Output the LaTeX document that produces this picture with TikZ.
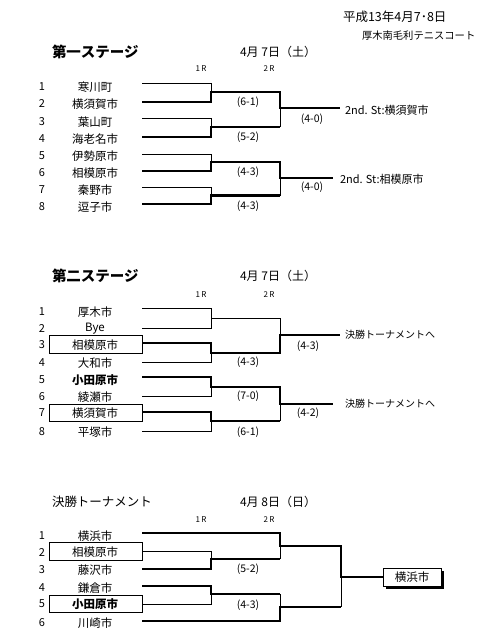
\documentclass[tikz,border=0pt]{standalone}
\usepackage{fontspec}
\setmainfont{Noto Sans CJK JP}
\begin{document}
\begin{tikzpicture}[x=1pt,y=-1pt,
  every node/.style={inner sep=0pt, outer sep=0pt},
  base/.style={font=\fontsize{11}{11}\selectfont},
  numtxt/.style={base},
  nametxt/.style={font=\fontsize{11.5}{11.5}\selectfont},
  scoretxt/.style={font=\fontsize{10.5}{10.5}\selectfont},
  roundtxt/.style={font=\fontsize{8}{8}\selectfont},
  titletxt/.style={anchor=west, font=\fontsize{14.5}{14.5}\selectfont\bfseries},
  datetxt/.style={anchor=west, font=\fontsize{12}{12}\selectfont},
  restxt/.style={anchor=west, base},
  gotxt/.style={anchor=west, font=\fontsize{10}{10}\selectfont},
  thinl/.style={line width=0.9pt, line join=miter},
  thickl/.style={line width=2.3pt, line join=miter},
  tbox/.style={draw, line width=0.9pt}
]
\path[use as bounding box] (0,0) rectangle (497,635);

% header
\node[anchor=west, font=\fontsize{12.5}{12.5}\selectfont] (hdate) at (343,17) {平成13年4月7･8日};
\node[anchor=west, font=\fontsize{10.3}{10.3}\selectfont] (hplace) at (362,36) {厚木南毛利テニスコート};

% ===== Stage 1 =====
\node[titletxt] (t1) at (52,52) {第一ステージ};
\node[datetxt] (d1) at (240,52) {4月 7日（土）};
\node[roundtxt] (r1a) at (201,69) {1\,R};
\node[roundtxt] (r1b) at (269,69) {2\,R};
\foreach \n/\y/\t in {1/87/寒川町,2/104/横須賀市,3/122/葉山町,4/139/海老名市,5/156/伊勢原市,6/173/相模原市,7/190/秦野市,8/207/逗子市}{
  \node[numtxt] (s1n\n) at (42,\y) {\n};
  \node[nametxt] (s1t\n) at (95,\y) {\t};
}
% thin
\draw[thinl] (142,83) -- (211,83) -- (211,92);
\draw[thinl] (142,118) -- (211,118) -- (211,127);
\draw[thinl] (280,108) -- (280,127);
\draw[thinl] (142,154) -- (211,154) -- (211,162);
\draw[thinl] (142,187) -- (211,187) -- (211,195.5);
\draw[thinl] (280,178) -- (280,195.5);
% thick
\draw[thickl] (142,102) -- (211,102) -- (211,92) -- (280,92) -- (280,108) -- (340,108);
\draw[thickl] (142,137) -- (211,137) -- (211,127) -- (280,127);
\draw[thickl] (142,171) -- (211,171) -- (211,162) -- (280,162) -- (280,178) -- (333,178);
\draw[thickl] (142,204) -- (211,204) -- (211,195.5) -- (280,195.5);
\node[restxt] (w1a) at (345,110) {2nd. St:横須賀市};
\node[restxt] (w1b) at (340,179) {2nd. St:相模原市};
\node[scoretxt] (sc1) at (248,102) {(6-1)};
\node[scoretxt] (sc2) at (248,137) {(5-2)};
\node[scoretxt] (sc3) at (312,119) {(4-0)};
\node[scoretxt] (sc4) at (248,172) {(4-3)};
\node[scoretxt] (sc5) at (312,187) {(4-0)};
\node[scoretxt] (sc6) at (248,206) {(4-3)};

% ===== Stage 2 =====
\node[titletxt] (t2) at (52,276) {第二ステージ};
\node[datetxt] (d2) at (240,276) {4月 7日（土）};
\node[roundtxt] (r2a) at (201,295) {1\,R};
\node[roundtxt] (r2b) at (269,295) {2\,R};
\draw[tbox] (49,335) rectangle (142,353);
\draw[tbox] (49,404) rectangle (142,421);
\foreach \n/\y/\t in {1/312/厚木市,2/329/Bye,3/345/相模原市,4/363/大和市,5/380/{\bfseries 小田原市},6/397/綾瀬市,7/413/横須賀市,8/432/平塚市}{
  \node[numtxt] (s2n\n) at (42,\y) {\n};
  \node[nametxt] (s2t\n) at (95,\y) {\t};
}
% thin
\draw[thinl] (142,308) -- (211,308) -- (211,328) -- (142,328);
\draw[thinl] (211,318) -- (280,318) -- (280,335);
\draw[thinl] (142,362) -- (211,362) -- (211,353);
\draw[thinl] (142,396) -- (211,396) -- (211,387);
\draw[thinl] (142,431) -- (211,431) -- (211,421);
\draw[thinl] (280,404) -- (280,421);
% thick
\draw[thickl] (142,343) -- (211,343) -- (211,353) -- (280,353) -- (280,335) -- (340,335);
\draw[thickl] (142,377) -- (211,377) -- (211,387) -- (280,387) -- (280,404) -- (333,404);
\draw[thickl] (142,412) -- (211,412) -- (211,421) -- (280,421);
\node[gotxt] (w2a) at (345,335) {決勝トーナメントへ};
\node[gotxt] (w2b) at (345,404) {決勝トーナメントへ};
\node[scoretxt] (sc7) at (308,346) {(4-3)};
\node[scoretxt] (sc8) at (248,362) {(4-3)};
\node[scoretxt] (sc9) at (248,396) {(7-0)};
\node[scoretxt] (sc10) at (308,413) {(4-2)};
\node[scoretxt] (sc11) at (248,432) {(6-1)};

% ===== Finals =====
\node[anchor=west, font=\fontsize{12.5}{12.5}\selectfont] (t3) at (52,502) {決勝トーナメント};
\node[datetxt] (d3) at (240,502) {4月 8日（日）};
\node[roundtxt] (r3a) at (201,520) {1\,R};
\node[roundtxt] (r3b) at (269,520) {2\,R};
\draw[tbox] (49,542) rectangle (142,560);
\draw[tbox] (49,595) rectangle (142,612);
\foreach \n/\y/\t in {1/536/横浜市,2/552/相模原市,3/570/藤沢市,4/588/鎌倉市,5/604/{\bfseries 小田原市},6/623/川崎市}{
  \node[numtxt] (s3n\n) at (42,\y) {\n};
  \node[nametxt] (s3t\n) at (95,\y) {\t};
}
% thin
\draw[thinl] (280,546) -- (280,559);
\draw[thinl] (142,551) -- (211,551) -- (211,559);
\draw[thinl] (142,604) -- (211,604) -- (211,594);
\draw[thinl] (280,594) -- (280,607);
\draw[thinl] (341,577) -- (341,607);
% thick
\draw[thickl] (142,533) -- (280,533) -- (280,546) -- (341,546) -- (341,577) -- (383,577);
\draw[thickl] (142,569) -- (211,569) -- (211,559) -- (280,559);
\draw[thickl] (142,586) -- (211,586) -- (211,594) -- (280,594);
\draw[thickl] (142,621) -- (280,621) -- (280,607) -- (341,607);
\node[scoretxt] (sc12) at (248,569) {(5-2)};
\node[scoretxt] (sc13) at (248,605) {(4-3)};
% champion box with shadow
\fill (385.5,570.5) rectangle (443.5,588.5);
\draw[tbox, fill=white] (383,568) rectangle (441,586);
\node[nametxt] (champ) at (412,577) {横浜市};
\end{tikzpicture}
\end{document}
